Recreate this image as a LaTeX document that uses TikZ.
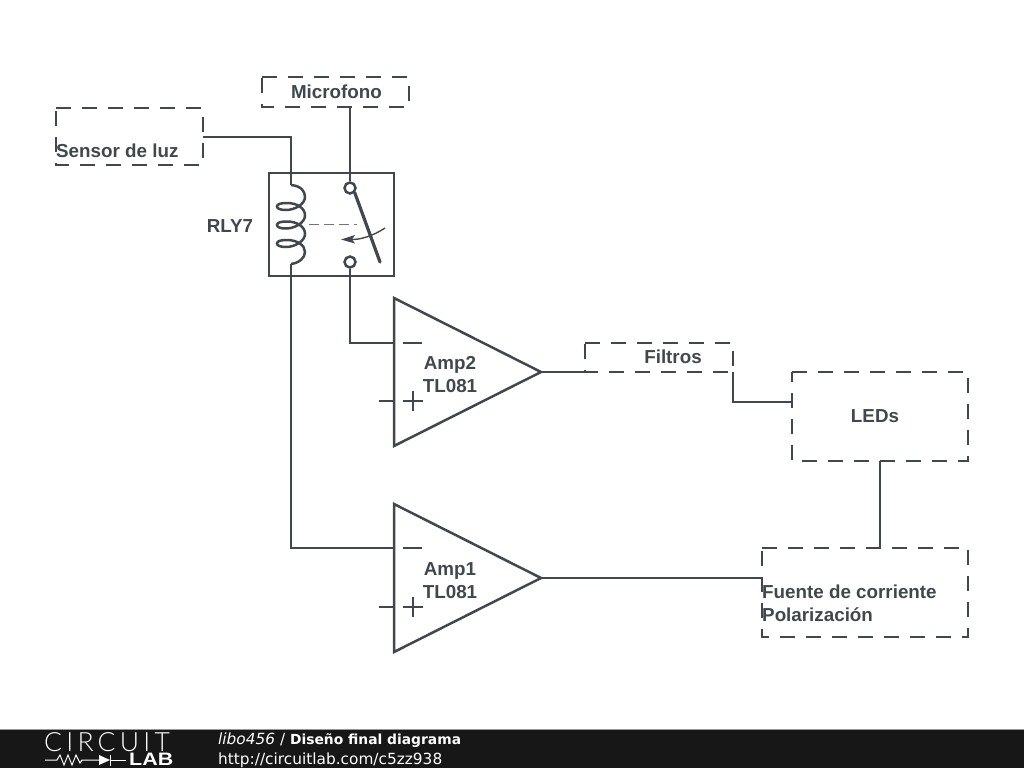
\documentclass[tikz,border=0pt]{standalone}
\usepackage{fontspec}
\setmainfont{Liberation Sans}
\newfontfamily\footfont{DejaVu Sans}
\newfontfamily\logofont[LetterSpace=16]{Lato Light}
\definecolor{ink}{HTML}{40484D}
\tikzset{
  wire/.style={draw=ink,line width=2.5pt,line join=miter},
  dashline/.style={draw=ink,line width=2.6pt,dash pattern=on 15pt off 11pt},
  frame/.style={anchor=north west,inner sep=0pt,outer sep=0pt,minimum width=#1},
  lbl/.style={text=ink,font=\fontsize{18.8}{23}\selectfont\bfseries,inner sep=0pt,align=left},
  term/.style={circle,draw=ink,line width=2.5pt,fill=white,inner sep=0pt,minimum size=11pt},
  foot/.style={text=white,inner sep=0pt,anchor=base west,font=\footfont\fontsize{15.35}{18}\selectfont}
}
\newcommand{\dbox}[1]{\draw[dashline] (#1.north west) -- (#1.north east) -- (#1.south east) -- (#1.south west) -- cycle;}
\begin{document}
\begin{tikzpicture}[x=1pt,y=-1pt]
\useasboundingbox (0,0) rectangle (1024,768);
% frames
\node[frame=147pt,minimum height=57pt] (sensor) at (56,108) {};
\node[frame=147pt,minimum height=30pt] (mic) at (262,77) {};
\node[frame=148pt,minimum height=29pt] (filt) at (585,343) {};
\node[frame=176pt,minimum height=89pt] (leds) at (792,372) {};
\node[frame=206pt,minimum height=89pt] (fuente) at (762,548) {};
\node[frame=125pt,minimum height=103pt] (relay) at (269,173) {};
\dbox{sensor}\dbox{mic}\dbox{filt}\dbox{leds}\dbox{fuente}
\draw[wire] (relay.north west) rectangle (relay.south east);
% labels
\node[lbl,anchor=west] (tsensor) at (56,151) {Sensor de luz};
\node[lbl] (tmic) at (336.5,92) {Microfono};
\node[lbl] (tfilt) at (673,357) {Filtros};
\node[lbl] (tleds) at (875,416) {LEDs};
\node[lbl,anchor=west] (tfuente) at (762,603) {Fuente de corriente\\Polarización};
\node[lbl] (trly) at (230,226.5) {RLY7};
% op amps
\coordinate (a2a) at (394,298); \coordinate (a2b) at (394,446); \coordinate (a2o) at (541,372);
\coordinate (a1a) at (394,504); \coordinate (a1b) at (394,652); \coordinate (a1o) at (541,578);
\draw[wire] (a2a) -- (a2o) -- (a2b) -- cycle;
\draw[wire] (a1a) -- (a1o) -- (a1b) -- cycle;
\node[lbl,align=center] (tamp2) at (450,374.5) {Amp2\\TL081};
\node[lbl,align=center] (tamp1) at (450,580.5) {Amp1\\TL081};
% signs and stubs
\coordinate (m2) at (393,343); \coordinate (p2) at (394,401);
\coordinate (m1) at (393,548); \coordinate (p1) at (394,607);
\draw[wire] (403,343) -- (422,343) (403,401) -- (423,401) (413,391) -- (413,411) (379,401) -- (p2);
\draw[wire] (403,548) -- (422,548) (403,607) -- (423,607) (413,597) -- (413,617) (379,607) -- (p1);
% relay internals
\node[term] (ct) at (350,188) {};
\node[term] (cb) at (350,262) {};
\coordinate (coilt) at (291,185); \coordinate (coilb) at (291,264);
\draw[wire] (coilt) .. controls (301,186) and (305,191) .. (305,197)
  .. controls (305,204) and (295,210) .. (286,210)
  .. controls (280,210) and (277,208.5) .. (277,206.5)
  .. controls (277,204) and (281,203) .. (287,203)
  .. controls (297,203) and (305,208) .. (305,215.5)
  .. controls (305,222.5) and (295,228.5) .. (286,228.5)
  .. controls (280,228.5) and (277,227) .. (277,225)
  .. controls (277,222.5) and (281,221.5) .. (287,221.5)
  .. controls (297,221.5) and (305,226.5) .. (305,234)
  .. controls (305,241) and (295,247) .. (286,247)
  .. controls (280,247) and (277,245.5) .. (277,243.5)
  .. controls (277,241) and (281,240) .. (287,240)
  .. controls (297,240) and (305,245) .. (305,252)
  .. controls (305,258) and (299,263) .. (coilb);
\draw[draw=ink,line width=1.4pt,dash pattern=on 10pt off 5pt,draw opacity=.75] (309,224.5) -- (357,224.5);
\draw[draw=ink,line width=3.2pt,line cap=round] (ct.south east) -- (380,262);
\draw[draw=ink,line width=1.4pt] (385,228) .. controls (373,236) and (360,240) .. (350,239.5);
\fill[ink] (341,239.5) -- (355,235) -- (352,239.5) -- (355,243.5) -- cycle;
% connectors
\draw[wire] (sensor.east |- 0,137) -- (291,137) -- (relay.north -| coilt) -- (coilt);
\draw[wire] (mic.south -| ct) -- (ct);
\draw[wire] (cb) -- (350,343) -- (m2);
\draw[wire] (coilb) -- (291,548) -- (m1);
\draw[wire] (a2o) -- (filt.south west);
\draw[wire] (filt.south east) -- (733,402) -- (leds.west |- 0,402);
\draw[wire] (leds.south -| 880,0) -- (fuente.north -| 880,0);
\draw[wire] (a1o) -- (fuente.west |- a1o);
% footer
\fill[fill=black!91] (0,729) rectangle (1024,768);
\draw[draw=black!40,line width=1pt] (0,729) -- (1024,729);
\node[anchor=base west,inner sep=0pt,text=white,text depth=0pt,font=\logofont\fontsize{26.5}{26.5}\selectfont] (clogo) at (44,751.5) {CIRCUIT};
\node[anchor=base west,inner sep=0pt,text=white,text height=12pt,text depth=0pt,xscale=1.19,transform shape,font=\fontsize{18}{18}\selectfont\bfseries] (llogo) at (129,765.5) {LAB};
\draw[white,line width=1pt] (45,760) -- (57,760) -- (60,755) -- (64,765) -- (68,755) -- (72,765) -- (76,755) -- (80,763) -- (82,760) -- (99,760);
\fill[white] (99,755) -- (110,760) -- (99,765) -- cycle;
\draw[white,line width=1.5pt] (110.5,754.5) -- (110.5,765.5);
\draw[white,line width=1pt] (110,760) -- (126,760);
\node[foot] (fuser) at (218,744.5) {\itshape libo456 \upshape / \bfseries\fontsize{13.85}{18}\selectfont Diseño final diagrama};
\node[foot] (furl) at (218,764) {http://circuitlab.com/c5zz938};
\end{tikzpicture}
\end{document}
